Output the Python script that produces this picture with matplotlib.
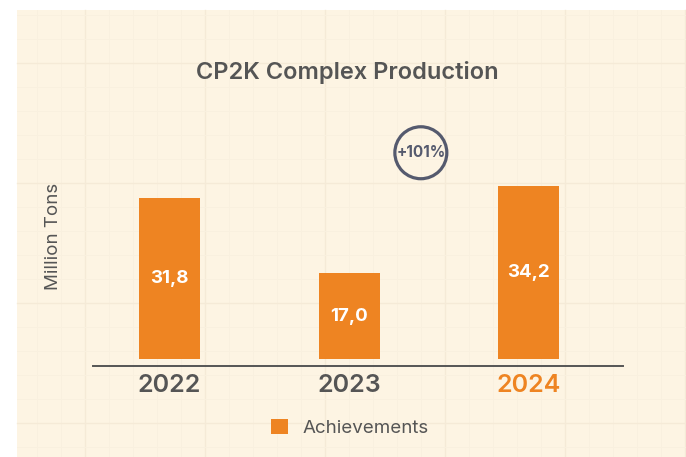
import matplotlib.pyplot as plt
from matplotlib.patches import Rectangle, Patch

years = ["2022", "2023", "2024"]
values = [31.8, 17.0, 34.2]
value_labels = ["31,8", "17,0", "34,2"]
growth_label = "+101%"

W, H = 686, 457
ORANGE = "#EE8422"
GREY = "#555555"
CREAM = "#FDF4E3"

plt.rcParams["font.family"] = ["Inter", "DejaVu Sans"]

fig = plt.figure(figsize=(W / 100, H / 100), dpi=100)
fig.patch.set_facecolor("white")

def fx(px):
    return px / W

def fy(py):
    return 1 - py / H

# background axes in pixel coordinates: cream panel with faint grid
bg = fig.add_axes([0, 0, 1, 1], zorder=-1)
bg.set_xlim(0, W)
bg.set_ylim(H, 0)
bg.axis("off")
bg.add_patch(Rectangle((17, 10), W - 17, H - 10, facecolor=CREAM, edgecolor="none"))
for x in range(37, W, 24):
    major = (x - 85) % 120 == 0
    bg.plot([x, x], [10, H], color="#F5EAD7" if major else "#F9F0DF",
            lw=1.0 if major else 0.7)
for y in range(15, H, 24):
    if y < 12:
        continue
    major = (y - 63) % 120 == 0
    bg.plot([17, W], [y, y], color="#F5EAD7" if major else "#F9F0DF",
            lw=1.0 if major else 0.7)

ax = fig.add_axes([fx(93), fy(366), fx(623) - fx(93), (366 - 130) / H])
ax.set_facecolor("none")

xs = range(len(years))
bars = ax.bar(xs, values, width=0.34, color=ORANGE, zorder=3)
for b, lab in zip(bars, value_labels):
    ax.text(b.get_x() + b.get_width() / 2, b.get_height() / 2, lab,
            ha="center", va="center", color="white", fontsize=13.5, fontweight="bold")

ax.set_xlim(-0.426, 2.526)
ax.set_ylim(-1.39, 45.3)

for side in ("top", "right", "left"):
    ax.spines[side].set_visible(False)
ax.spines["bottom"].set_color(GREY)
ax.spines["bottom"].set_linewidth(1.4)

ax.set_yticks([])
ax.set_xticks(list(xs))
ax.set_xticklabels(years, fontsize=18, color=GREY, fontweight="semibold")
ax.get_xticklabels()[-1].set_color(ORANGE)
ax.tick_params(axis="x", length=0, pad=6)

ax.set_ylabel("Million Tons", fontsize=13.5, color=GREY)
ax.yaxis.set_label_coords(-0.058, 0.55)

# growth marker
ax.scatter([1.40], [40.8], s=1400, facecolor="none", edgecolor="#555A6E",
           linewidth=2.3, zorder=4, clip_on=False)
ax.text(1.40, 40.8, growth_label, ha="center", va="center", fontsize=11,
        color="#555A6E", fontweight="bold", zorder=5)

fig.text(fx(347), fy(72), "CP2K Complex Production", ha="center", va="center",
         fontsize=17, color=GREY, fontweight="semibold")

fig.legend(handles=[Patch(facecolor=ORANGE, label="Achievements")],
           loc="center", bbox_to_anchor=(fx(350), fy(428)), frameon=False,
           fontsize=13.5, handlelength=0.9, handleheight=0.9, handletextpad=0.75,
           labelcolor=GREY)

fig.savefig("out.png", dpi=100)
